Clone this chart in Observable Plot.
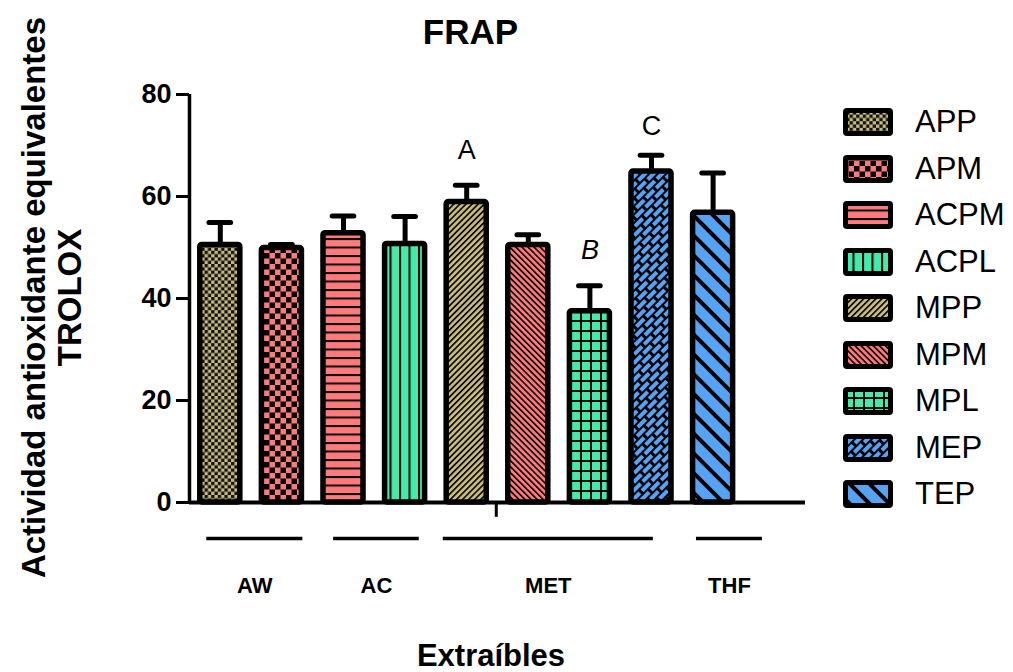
<!DOCTYPE html>
<html><head><meta charset="utf-8">
<script src="https://cdn.jsdelivr.net/npm/d3@7"></script>
<script src="https://cdn.jsdelivr.net/npm/@observablehq/plot@0.6"></script>
<style>
html,body{margin:0;padding:0;background:#fff;}
#wrap{position:relative;width:1013px;height:672px;overflow:hidden;background:#fff;}
#legend{position:absolute;left:843px;top:0;font-family:"Liberation Sans",Arial,sans-serif;}
.row{position:absolute;left:0;display:flex;align-items:center;height:28px;white-space:nowrap;}
.row svg{display:block;}
.row span{margin-left:22px;font-size:31px;color:#000;}
</style></head>
<body>
<svg id="defs" width="0" height="0" style="position:absolute;left:0;top:0"></svg>
<div id="wrap"><div id="legend"></div></div>
<script>
// ---- data ----
const categories = ["APP","APM","ACPM","ACPL","MPP","MPM","MPL","MEP","TEP"];
const means      = [50.5, 49.9, 52.8, 50.7, 58.9, 50.5, 37.5, 64.9, 56.8];
const errors     = [4.4, 0.7, 3.4, 5.4, 3.3, 2.0, 5.0, 3.2, 7.8];
const groups     = ["AW","AC","MET","THF"];
const groupStart = [-0.22, 1.84, 3.62, 7.73];
const groupEnd   = [1.34, 3.23, 7.03, 8.80];
const letters    = ["A","B","C"];
const letterX    = [4, 6, 7];
const letterY    = [67.4, 47.8, 72.0];
const letterItalic = [false, true, false];
const yTicks     = [0, 20, 40, 60, 80];
const xTick      = [4.48];

// ---- patterns ----
const KH="#c8bb7e", PK="#ff7b7b", GR="#42eaab", BL="#56a3f6", K="#000";
const defs = `
<pattern id="p-APP" patternUnits="userSpaceOnUse" width="6.6" height="6.6"><rect width="6.6" height="6.6" fill="${KH}"/><rect width="3.3" height="3.3" fill="#111"/><rect x="3.3" y="3.3" width="3.3" height="3.3" fill="#111"/></pattern>
<pattern id="p-APM" patternUnits="userSpaceOnUse" width="11" height="11"><rect width="11" height="11" fill="${PK}"/><rect width="5.5" height="5.5" fill="${K}"/><rect x="5.5" y="5.5" width="5.5" height="5.5" fill="${K}"/></pattern>
<pattern id="p-ACPM" patternUnits="userSpaceOnUse" width="10" height="8.5"><rect width="10" height="8.5" fill="${PK}"/><rect width="10" height="2" fill="${K}"/></pattern>
<pattern id="p-ACPL" patternUnits="userSpaceOnUse" width="9.5" height="10"><rect width="9.5" height="10" fill="${GR}"/><rect width="2" height="10" fill="${K}"/></pattern>
<pattern id="p-MPP" patternUnits="userSpaceOnUse" width="4.3" height="10" patternTransform="rotate(45)"><rect width="4.3" height="10" fill="${KH}"/><rect width="1.6" height="10" fill="${K}"/></pattern>
<pattern id="p-MPM" patternUnits="userSpaceOnUse" width="4.3" height="10" patternTransform="rotate(-45)"><rect width="4.3" height="10" fill="${PK}"/><rect width="1.6" height="10" fill="${K}"/></pattern>
<pattern id="p-MPL" patternUnits="userSpaceOnUse" width="10" height="10"><rect width="10" height="10" fill="${GR}"/><rect width="10" height="2" fill="${K}"/><rect width="2" height="10" fill="${K}"/></pattern>
<pattern id="p-MEP" patternUnits="userSpaceOnUse" width="12" height="14" patternTransform="rotate(45)"><rect width="12" height="14" fill="${K}"/><rect x="1" y="1" width="4" height="11" fill="${BL}"/><rect x="7" y="8" width="4" height="11" fill="${BL}"/><rect x="7" y="-6" width="4" height="11" fill="${BL}"/></pattern>
<pattern id="p-TEP" patternUnits="userSpaceOnUse" width="14" height="10" patternTransform="rotate(-45)"><rect width="14" height="10" fill="${BL}"/><rect width="4" height="10" fill="${K}"/></pattern>`;
document.getElementById("defs").innerHTML = "<defs>" + defs + "</defs>";

const bars = categories.map((name, i) => ({name, i, mean: means[i], err: errors[i]}));
const grp = groups.map((name, k) => ({name, start: groupStart[k], end: groupEnd[k]}));
const ann = letters.map((t, k) => ({t, x: letterX[k], y: letterY[k], italic: letterItalic[k]}));

const chart = Plot.plot({
  width: 1013, height: 672,
  marginLeft: 189, marginRight: 208, marginTop: 94, marginBottom: 170,
  style: {fontFamily: '"Liberation Sans", Arial, sans-serif', color: "#000", background: "transparent", overflow: "visible"},
  x: {type: "linear", domain: [-0.5, 9.5], axis: null},
  y: {domain: [0, 80], axis: null},
  marks: [
    Plot.ruleX(bars, {x: "i", y1: "mean", y2: d => d.mean + d.err, stroke: K, strokeWidth: 5}),
    Plot.ruleY(bars, {y: d => d.mean + d.err, x1: d => d.i - 0.176, x2: d => d.i + 0.176, stroke: K, strokeWidth: 5, strokeLinecap: "round"}),
    Plot.rectY(bars, {x1: d => d.i - 0.325, x2: d => d.i + 0.325, y1: 0, y2: "mean", fill: d => `url(#p-${d.name})`, stroke: K, strokeWidth: 5.5, rx: 2}),
    Plot.ruleY([0], {stroke: K, strokeWidth: 4}),
    Plot.ruleX([-0.5], {y1: 0, y2: 80, stroke: K, strokeWidth: 3.5}),
    Plot.axisY({ticks: yTicks, tickSize: 13, tickPadding: 5, strokeWidth: 3, fontSize: 27, fontWeight: "bold", label: null}),
    Plot.ruleX(xTick, {x: d => d, y1: 0, y2: -2.9, stroke: K, strokeWidth: 3}),
    Plot.ruleY(grp, {y: () => 0, x1: "start", x2: "end", dy: 36, stroke: K, strokeWidth: 3.5}),
    Plot.text(grp, {x: d => (d.start + d.end) / 2, y: () => 0, text: "name", dy: 90, lineAnchor: "bottom", fontSize: 22, fontWeight: "bold"}),
    Plot.text(ann.filter(d => !d.italic), {x: "x", y: "y", text: "t", lineAnchor: "bottom", fontSize: 27}),
    Plot.text(ann.filter(d => d.italic), {x: "x", y: "y", text: "t", lineAnchor: "bottom", fontSize: 27, fontStyle: "italic"}),
    Plot.text(["FRAP"], {text: d => d, frameAnchor: "top", dx: -27, dy: -51, lineAnchor: "bottom", fontSize: 35, fontWeight: "bold"}),
    Plot.text(["Actividad antioxidante equivalentes"], {text: d => d, frameAnchor: "left", textAnchor: "middle", rotate: -90, dx: -155, dy: -1, fontSize: 33, fontWeight: "bold"}),
    Plot.text(["TROLOX"], {text: d => d, frameAnchor: "left", textAnchor: "middle", rotate: -90, dx: -119, dy: -1, fontSize: 33, fontWeight: "bold"}),
    Plot.text(["Extraíbles"], {text: d => d, frameAnchor: "bottom", dx: -6.5, dy: 163, lineAnchor: "bottom", fontSize: 31, fontWeight: "bold"})
  ]
});
chart.style.position = "absolute";
chart.style.left = "0";
chart.style.top = "0";
document.getElementById("wrap").prepend(chart);

// ---- legend ----
const legend = document.getElementById("legend");
categories.forEach((name, k) => {
  const row = document.createElement("div");
  row.className = "row";
  row.style.top = (108 + 46.5 * k) + "px";
  row.innerHTML = `<svg width="50" height="28"><rect width="50" height="28" rx="4" fill="#000"/><rect x="5" y="5" width="40" height="18" fill="url(#p-${name})"/></svg><span>${name}</span>`;
  legend.appendChild(row);
});
</script>
</body></html>
